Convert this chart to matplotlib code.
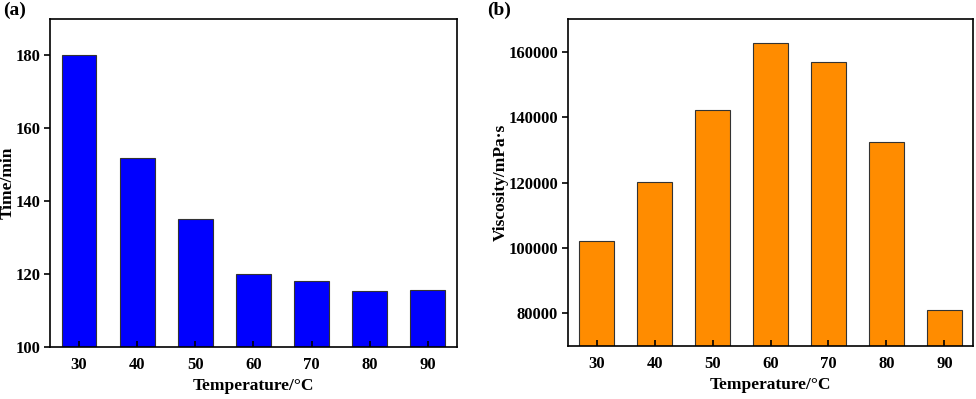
import matplotlib
matplotlib.use('Agg')
import matplotlib.pyplot as plt

temps = [30, 40, 50, 60, 70, 80, 90]
time_min = [180, 152, 135, 120, 118, 115.5, 115.6]
viscosity = [102200, 120200, 142200, 162700, 156800, 132400, 80900]

plt.rcParams['font.family'] = 'Liberation Serif'
plt.rcParams['font.weight'] = 'bold'

fig = plt.figure(figsize=(9.76, 3.99), dpi=100)
ax1 = fig.add_axes([0.0512, 0.1303, 0.417, 0.822])
ax2 = fig.add_axes([0.5817, 0.1328, 0.4156, 0.8195])


def style_axis(ax):
    for s in ax.spines.values():
        s.set_linewidth(1.2)
    ax.tick_params(axis='y', direction='out', length=4, width=1.2, labelsize=12, pad=3)
    ax.tick_params(axis='x', direction='in', length=4, width=1.2, labelsize=12, pad=7)
    for lab in ax.get_xticklabels() + ax.get_yticklabels():
        lab.set_fontweight('bold')


# (a) time
ax1.bar(temps, time_min, width=6, color='#0000FF', edgecolor='#333333', linewidth=0.8)
ax1.set_xlim(25, 95)
ax1.set_ylim(100, 190)
ax1.set_xticks(temps)
ax1.set_yticks([100, 120, 140, 160, 180])
ax1.set_xlabel('Temperature/°C', fontsize=12.5, fontweight='bold')
ax1.set_ylabel('Time/min', fontsize=12.5, fontweight='bold')
ax1.xaxis.set_label_coords(0.5, -0.095)
ax1.yaxis.set_label_coords(-0.085, 0.5)
style_axis(ax1)

# (b) viscosity
ax2.bar(temps, viscosity, width=6, color='#FF8C00', edgecolor='#333333', linewidth=0.8)
ax2.set_xlim(25, 95)
ax2.set_ylim(70000, 170000)
ax2.set_xticks(temps)
ax2.set_yticks([80000, 100000, 120000, 140000, 160000])
ax2.set_xlabel('Temperature/°C', fontsize=12.5, fontweight='bold')
ax2.set_ylabel('Viscosity/mPa·s', fontsize=12.5, fontweight='bold')
ax2.xaxis.set_label_coords(0.5, -0.095)
ax2.yaxis.set_label_coords(-0.146, 0.5)
style_axis(ax2)

fig.text(0.003, 0.995, '(a)', fontsize=14, fontweight='bold', va='top', ha='left')
fig.text(0.499, 0.995, '(b)', fontsize=14, fontweight='bold', va='top', ha='left')

fig.savefig('out.png', dpi=100)
